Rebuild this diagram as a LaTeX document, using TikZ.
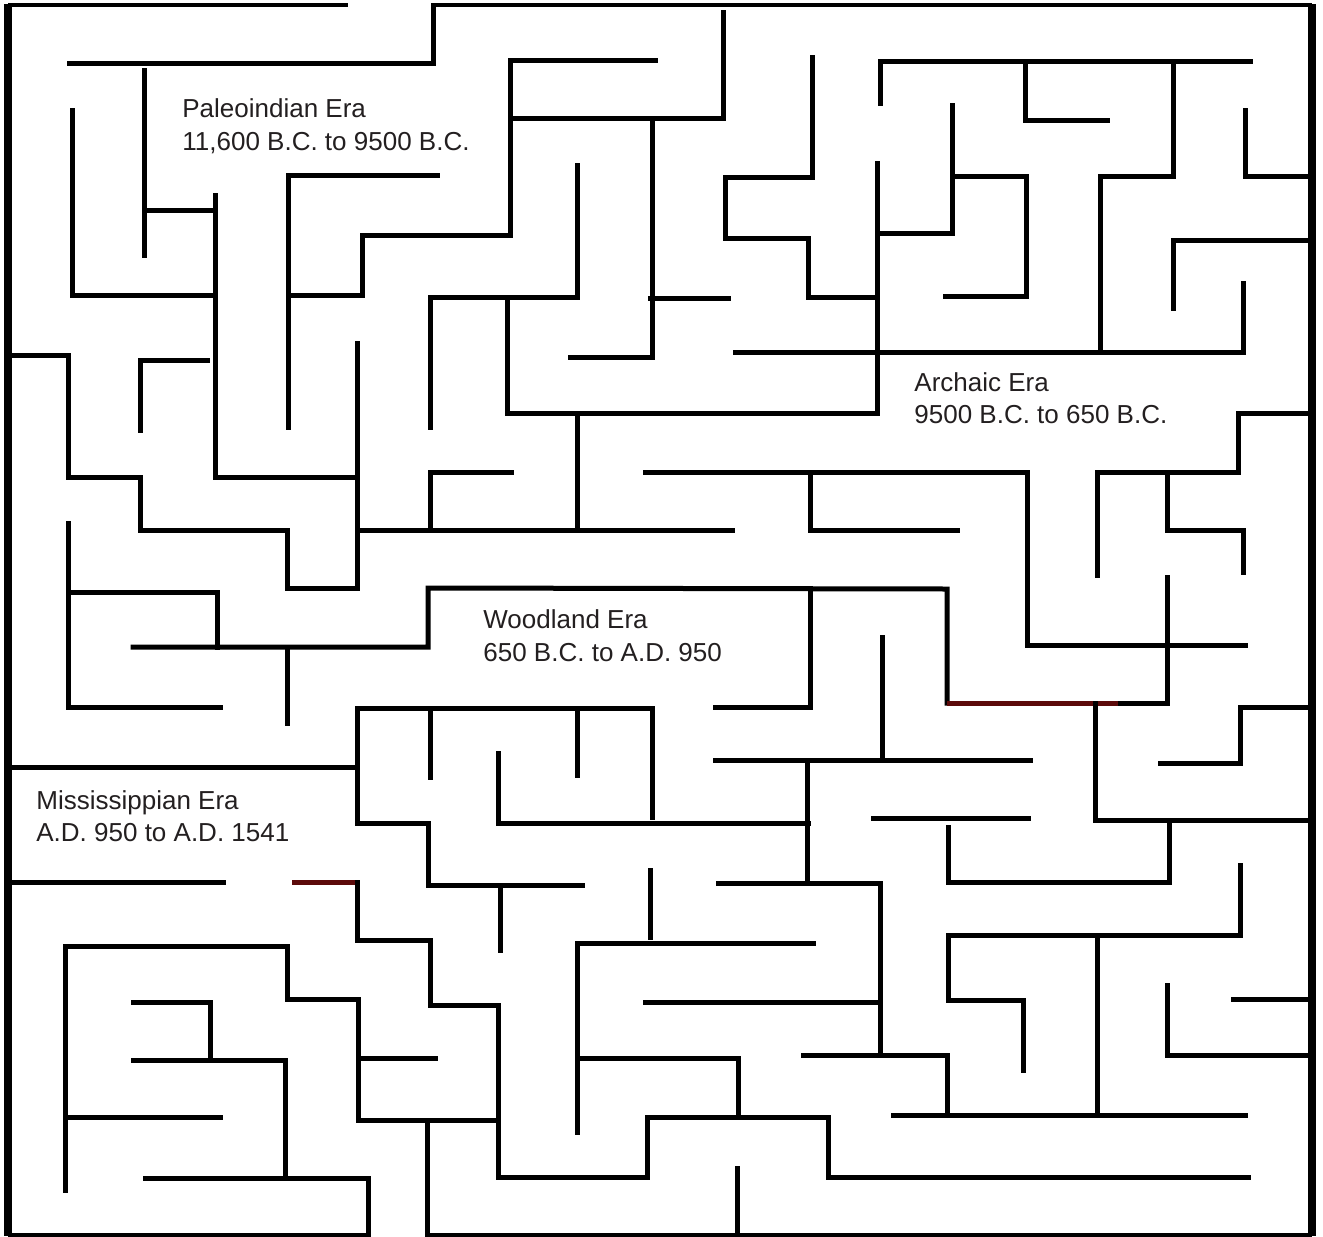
\documentclass[tikz,border=0pt]{standalone}
\usepackage{fontspec}
\setmainfont{Liberation Sans}
\definecolor{txt}{HTML}{231F20}
\definecolor{redw}{HTML}{5C0A0A}
\begin{document}
\begin{tikzpicture}[x=0.5pt,y=-0.5pt,
  wall/.style={line width=2.5pt,line join=miter,line cap=rect},
  redwall/.style={line width=2.5pt,draw=redw},
  thickb/.style={line width=3.6pt},
  thinb/.style={line width=2pt},
  lbl/.style={anchor=base west,inner sep=0pt,text=txt,font=\fontsize{13}{16.5}\selectfont}]
\useasboundingbox[fill=white] (0,0) rectangle (1323,1237);
% border
\draw[thinb] (8,5) -- (348,5);
\draw[thinb] (433,5) -- (1312,5);
\draw[thinb] (8,1235) -- (368,1235);
\draw[thinb] (427,1235) -- (1312,1235);
\draw[thickb] (8,4) -- (8,1236);
\draw[thickb] (1312,4) -- (1312,1236);
% walls top-left
\draw[wall] (69,63) -- (433,63) -- (433,5);
\draw[wall] (144,70) -- (144,255);
\draw[wall] (144,210) -- (215,210);
\draw[wall] (215,195) -- (215,477) -- (357,477);
\draw[wall] (72,110) -- (72,295) -- (215,295);
\draw[wall] (437,175) -- (288,175) -- (288,427);
\draw[wall] (288,295) -- (362,295) -- (362,235) -- (510,235) -- (510,60) -- (655,60);
\draw[wall] (513,118) -- (723,118) -- (723,12);
\draw[wall] (430,427) -- (430,297) -- (577,297) -- (577,165);
\draw[wall] (507,297) -- (507,413) -- (877,413) -- (877,163);
\draw[wall] (570,357) -- (652,357) -- (652,118);
\draw[wall] (650,298) -- (728,298);
\draw[wall] (812,57) -- (812,177) -- (725,177) -- (725,238) -- (808,238) -- (808,297) -- (877,297);
% top-right
\draw[wall] (877,233) -- (952,233) -- (952,105);
\draw[wall] (880,103) -- (880,61) -- (1250,61);
\draw[wall] (1025,61) -- (1025,120) -- (1107,120);
\draw[wall] (1173,61) -- (1173,176) -- (1100,176) -- (1100,350);
\draw[wall] (952,176) -- (1026,176) -- (1026,296) -- (945,296);
\draw[wall] (1245,110) -- (1245,176) -- (1312,176);
\draw[wall] (1173,308) -- (1173,240) -- (1312,240);
\draw[wall] (735,352) -- (1243,352) -- (1243,283);
\draw[wall] (1312,413) -- (1238,413) -- (1238,472) -- (1097,472) -- (1097,575);
\draw[wall] (1167,473) -- (1167,530) -- (1243,530) -- (1243,572);
\draw[wall] (645,472) -- (1027,472) -- (1027,645) -- (1245,645);
\draw[wall] (810,472) -- (810,530) -- (957,530);
% middle-left
\draw[wall] (10,355) -- (68,355) -- (68,477) -- (140,477) -- (140,530) -- (287,530) -- (287,588) -- (357,588) -- (357,343);
\draw[wall] (357,530) -- (732,530);
\draw[wall] (577,415) -- (577,530);
\draw[wall] (207,360) -- (140,360) -- (140,430);
\draw[wall] (511,472) -- (430,472) -- (430,528);
\draw[wall] (133,647) -- (428,647) -- (428,588) -- (947,589) -- (947,703);
\draw[redwall] (947,703) -- (1120,703);
\draw[wall] (1120,703) -- (1167,703) -- (1167,577);
\draw[wall] (68,523) -- (68,707) -- (220,707);
\draw[wall] (68,592) -- (217,592) -- (217,647);
\draw[wall] (287,647) -- (287,723);
\draw[wall] (10,767) -- (357,767);
\draw[wall] (652,817) -- (652,708) -- (357,708) -- (357,823) -- (428,823) -- (428,885) -- (582,885);
\draw[wall] (430,708) -- (430,777);
\draw[wall] (577,708) -- (577,775);
\draw[wall] (498,753) -- (498,823) -- (808,823);
\draw[wall] (810,588) -- (810,707) -- (715,707);
\draw[wall] (715,760) -- (1030,760);
\draw[wall] (807,760) -- (807,883);
\draw[wall] (718,883) -- (880,883) -- (880,1055);
\draw[wall] (803,1055) -- (947,1055) -- (947,1115);
\draw[wall] (882,637) -- (882,760);
\draw[wall] (873,818) -- (1028,818);
% lower right
\draw[wall] (1095,703) -- (1095,820) -- (1312,820);
\draw[wall] (1312,707) -- (1240,707) -- (1240,763) -- (1160,763);
\draw[wall] (948,827) -- (948,882) -- (1169,882) -- (1169,820);
\draw[wall] (1240,865) -- (1240,935) -- (948,935) -- (948,1000) -- (1023,1000) -- (1023,1070);
\draw[wall] (1097,935) -- (1097,1115);
\draw[wall] (893,1115) -- (1245,1115);
\draw[wall] (1167,985) -- (1167,1055) -- (1312,1055);
\draw[wall] (1233,999) -- (1312,999);
% lower middle
\draw[redwall] (292,882) -- (357,882);
\draw[wall] (357,882) -- (357,940) -- (430,940) -- (430,1005) -- (498,1005) -- (498,1177) -- (647,1177) -- (647,1117) -- (828,1117) -- (828,1177) -- (1248,1177);
\draw[wall] (500,885) -- (500,950);
\draw[wall] (650,870) -- (650,937);
\draw[wall] (813,943) -- (577,943) -- (577,1132);
\draw[wall] (577,1058) -- (738,1058) -- (738,1117);
\draw[wall] (645,1002) -- (878,1002);
\draw[wall] (737,1168) -- (737,1235);
% lower left
\draw[wall] (10,882) -- (223,882);
\draw[wall] (65,1190) -- (65,946) -- (287,946) -- (287,999) -- (358,999) -- (358,1120) -- (498,1120);
\draw[wall] (427,1120) -- (427,1235);
\draw[wall] (358,1058) -- (435,1058);
\draw[wall] (65,1117) -- (220,1117);
\draw[wall] (133,1002) -- (210,1002) -- (210,1060);
\draw[wall] (133,1060) -- (285,1060) -- (285,1178);
\draw[wall] (145,1178) -- (368,1178) -- (368,1235);
% labels
\node[lbl] (pal1) at (182,117) {Paleoindian Era};
\node[lbl] (pal2) at (182,150) {11,600 B.C. to 9500 B.C.};
\node[lbl] (arc1) at (914,391) {Archaic Era};
\node[lbl] (arc2) at (914,423) {9500 B.C. to 650 B.C.};
\node[lbl] (woo1) at (483,628) {Woodland Era};
\node[lbl] (woo2) at (483,661) {650 B.C. to A.D. 950};
\node[lbl] (mis1) at (36,809) {Mississippian Era};
\node[lbl] (mis2) at (36,841) {A.D. 950 to A.D. 1541};
\end{tikzpicture}
\end{document}
